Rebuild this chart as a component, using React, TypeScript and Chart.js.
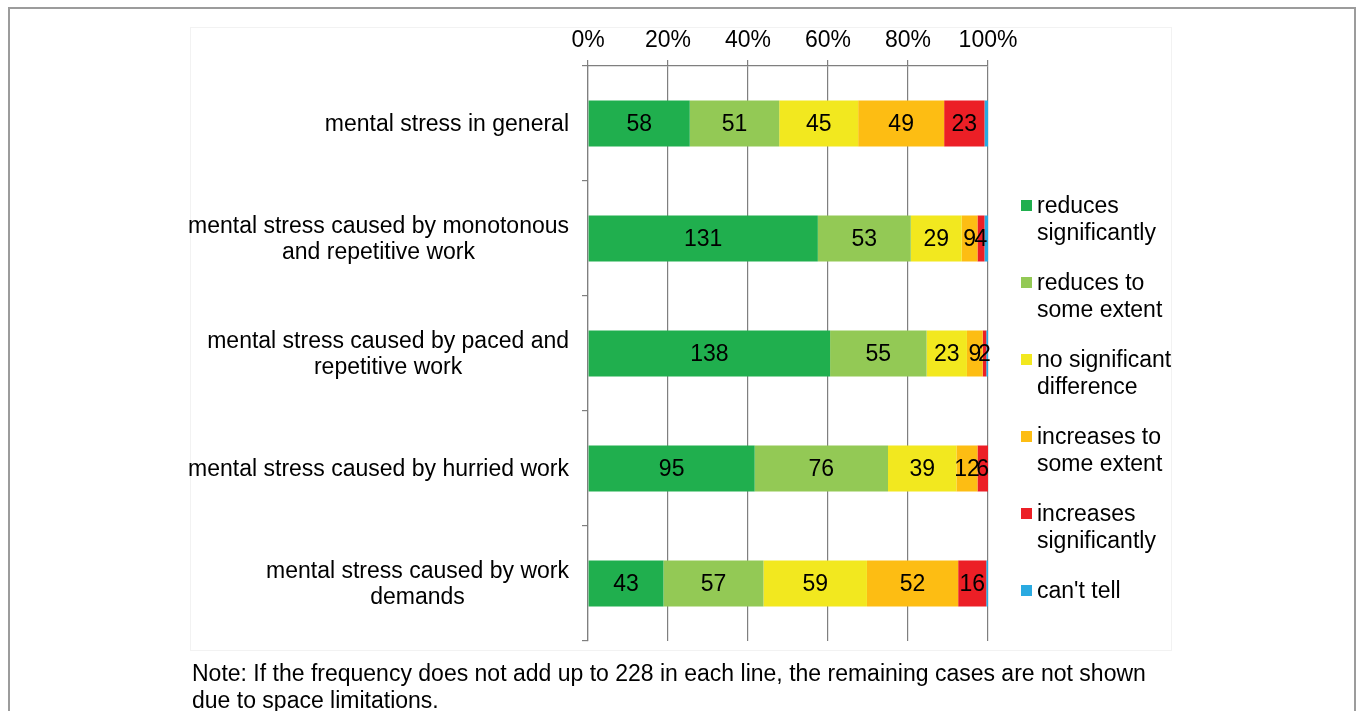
import React, { useEffect, useRef } from "react";
import { Chart, registerables } from "chart.js";

Chart.register(...registerables);

const categories: string[][] = [
  ["mental stress in general"],
  ["mental stress caused by monotonous", "and repetitive work"],
  ["mental stress caused by paced and", "repetitive work"],
  ["mental stress caused by hurried work"],
  ["mental stress caused by work", "demands"],
];

const seriesNames: string[] = [
  "reduces significantly",
  "reduces to some extent",
  "no significant difference",
  "increases to some extent",
  "increases significantly",
  "can't tell",
];

const legendLines: string[][] = [
  ["reduces", "significantly"],
  ["reduces to", "some extent"],
  ["no significant", "difference"],
  ["increases to", "some extent"],
  ["increases", "significantly"],
  ["can't tell"],
];

const reducesSignificantly = [58, 131, 138, 95, 43];
const reducesSomeExtent = [51, 53, 55, 76, 57];
const noSignificantDifference = [45, 29, 23, 39, 59];
const increasesSomeExtent = [49, 9, 9, 12, 52];
const increasesSignificantly = [23, 4, 2, 6, 16];
const cantTell = [2, 2, 1, 0, 1];

const xTicks = [0, 20, 40, 60, 80, 100];

const colors = ["#20AF4E", "#93C955", "#F2E81F", "#FDBD13", "#EC1F26", "#2AAAE1"];

const FONT = "'Liberation Sans', Arial, sans-serif";
const FS = 23;

export default function App() {
  const ref = useRef<HTMLCanvasElement | null>(null);

  useEffect(() => {
    const counts = [
      reducesSignificantly,
      reducesSomeExtent,
      noSignificantDifference,
      increasesSomeExtent,
      increasesSignificantly,
      cantTell,
    ];
    const totals = categories.map((_, i) => counts.reduce((s, arr) => s + arr[i], 0));

    const labelPlugin = {
      id: "barLabels",
      afterDatasetsDraw(chart: any) {
        const ctx = chart.ctx;
        ctx.save();
        ctx.font = `${FS}px ${FONT}`;
        ctx.fillStyle = "#000";
        ctx.textAlign = "center";
        ctx.textBaseline = "middle";
        chart.data.datasets.forEach((ds: any, di: number) => {
          if (di === counts.length - 1) return;
          const meta = chart.getDatasetMeta(di);
          meta.data.forEach((el: any, i: number) => {
            const c = counts[di][i];
            if (!c) return;
            const cx = (el.x + el.base) / 2;
            ctx.fillText(String(c), cx, el.y + 1);
          });
        });
        ctx.restore();
      },
    };

    const catLabelPlugin = {
      id: "catLabels",
      afterDraw(chart: any) {
        const ctx = chart.ctx;
        const yScale = chart.scales.y;
        const right = chart.chartArea.left - 19;
        ctx.save();
        ctx.font = `${FS}px ${FONT}`;
        ctx.fillStyle = "#000";
        ctx.textAlign = "center";
        ctx.textBaseline = "middle";
        const lh = 26;
        categories.forEach((lines, i) => {
          const maxW = Math.max(...lines.map((l) => ctx.measureText(l).width));
          const cx = right - maxW / 2;
          const cy = yScale.getPixelForValue(i);
          const startY = cy - ((lines.length - 1) * lh) / 2;
          lines.forEach((l, k) => ctx.fillText(l, cx, startY + k * lh + 1));
        });
        ctx.restore();
      },
    };

    const chart = new Chart(ref.current as HTMLCanvasElement, {
      type: "bar",
      data: {
        labels: categories.map((c) => c.join(" ")),
        datasets: counts.map((arr, di) => ({
          label: seriesNames[di],
          data: arr.map((v, i) => (v / totals[i]) * 100),
          backgroundColor: colors[di],
          borderWidth: 0,
          categoryPercentage: 1,
          barPercentage: 0.4,
        })),
      },
      options: {
        indexAxis: "y",
        responsive: false,
        animation: false,
        layout: { padding: { left: 190, right: 368, top: 20, bottom: 70 } },
        plugins: {
          legend: { display: false },
          tooltip: { enabled: false },
        },
        scales: {
          x: {
            position: "top",
            stacked: true,
            min: 0,
            max: 100,
            afterBuildTicks(scale: any) {
              scale.ticks = xTicks.map((v) => ({ value: v }));
            },
            afterFit(scale: any) {
              scale.height = 46;
            },
            ticks: {
              callback: (v: any) => `${v}%`,
              font: { size: FS, family: FONT },
              color: "#000",
              padding: 6,
              maxRotation: 0,
            },
            grid: {
              color: "#7f7f7f",
              lineWidth: 1.2,
              tickLength: 6,
            },
            border: { display: true, color: "#7f7f7f", width: 1.2 },
          },
          y: {
            stacked: true,
            afterFit(scale: any) {
              scale.width = 398;
            },
            ticks: { display: false },
            grid: {
              drawOnChartArea: false,
              drawTicks: true,
              tickLength: 6,
              color: "#7f7f7f",
              lineWidth: 1.2,
              offset: true,
            },
            border: { display: true, color: "#7f7f7f", width: 1.2 },
          },
        },
      },
      plugins: [labelPlugin, catLabelPlugin],
    } as any);

    return () => chart.destroy();
  }, []);

  const textStyle: React.CSSProperties = {
    fontFamily: FONT,
    fontSize: FS,
    lineHeight: "26.5px",
    color: "#000",
    whiteSpace: "nowrap",
  };

  return (
    <div>
      <div
        style={{
          position: "fixed",
          left: 8,
          top: 7,
          width: 1348,
          height: 720,
          border: "2px solid #9c9c9c",
          boxSizing: "border-box",
        }}
      />
      <div
        style={{
          position: "fixed",
          left: 190,
          top: 27,
          width: 982,
          height: 624,
          border: "1px solid #f2f2f2",
          boxSizing: "border-box",
        }}
      />
      <canvas
        ref={ref}
        width={1356}
        height={711}
        style={{ position: "fixed", left: 0, top: 0, width: 1356, height: 711 }}
      />
      {legendLines.map((lines, i) => (
        <div key={i} style={{ position: "fixed", left: 1021, top: 192 + i * 77 }}>
          <div
            style={{
              position: "absolute",
              left: 0,
              top: 8,
              width: 11,
              height: 11,
              background: colors[i],
            }}
          />
          <div style={{ ...textStyle, position: "absolute", left: 16, top: 0 }}>
            {lines.map((l, k) => (
              <div key={k}>{l}</div>
            ))}
          </div>
        </div>
      ))}
      <div style={{ ...textStyle, position: "fixed", left: 192, top: 660 }}>
        <div>
          Note: If the frequency does not add up to 228 in each line, the remaining cases are not shown
        </div>
        <div>due to space limitations.</div>
      </div>
    </div>
  );
}
